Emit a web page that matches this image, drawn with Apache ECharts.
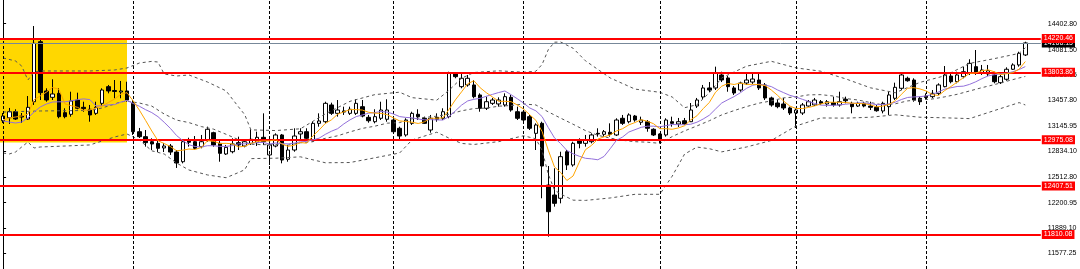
<!DOCTYPE html>
<html><head><meta charset="utf-8">
<script src="https://cdn.jsdelivr.net/npm/echarts@6/dist/echarts.min.js"></script>
<style>html,body{margin:0;padding:0;background:#fff;overflow:hidden}#c{width:1080px;height:269px}</style>
</head><body><div id="c"></div>
<script>
// ---- data ----
const openPrices = [13209,13246,13320,13267,13230,13443,14181,13575,13497,13546,13308,13288,13464,13374,13350,13300,13423,13628,13581,13562,13575,13423,13074,13013,12951,12931,12874,12898,12824,12705,12960,12951,12890,12972,13062,12931,12800,12828,12939,12898,12931,12939,13005,12788,12898,13034,12735,12849,13046,13074,12972,13177,13197,13403,13300,13329,13300,13300,13382,13251,13197,13239,13227,13218,13116,13034,13177,13288,13239,13095,13251,13239,13259,13792,13628,13649,13649,13526,13362,13423,13415,13403,13497,13320,13316,13259,13054,13177,12418,12295,12255,12828,12665,12960,12931,12951,13054,13042,13067,13034,13239,13197,13267,13190,13197,13104,13046,13034,13197,13169,13209,13197,13390,13501,13612,13612,13772,13735,13612,13587,13673,13685,13710,13649,13489,13427,13415,13366,13304,13304,13390,13403,13443,13415,13431,13403,13473,13423,13390,13423,13390,13374,13329,13382,13485,13608,13731,13710,13485,13513,13505,13546,13628,13759,13689,13751,13792,13874,13792,13784,13772,13677,13719,13842,13895,14018];
const closePrices = [13267,13320,13230,13255,13374,14161,13554,13464,13538,13259,13259,13452,13362,13357,13280,13374,13587,13575,13569,13575,13464,13074,13013,12939,12923,12870,12898,12824,12689,12951,12944,12870,12951,13104,12911,12808,12882,12923,12911,12951,12981,13005,12951,12911,13034,12726,12849,13021,13074,12993,13177,13206,13423,13300,13341,13316,13350,13423,13267,13209,13259,13341,13341,13074,13021,13218,13300,13259,13177,13239,13227,13320,13792,13751,13731,13731,13505,13362,13443,13464,13464,13505,13341,13239,13218,13116,13157,12652,12090,12193,12767,12665,12931,12931,12972,13034,13046,13074,13042,13218,13177,13280,13218,13218,13116,13034,12972,13218,13177,13197,13169,13341,13464,13612,13587,13796,13710,13628,13550,13673,13710,13722,13612,13489,13403,13382,13366,13304,13341,13403,13443,13464,13423,13443,13403,13443,13455,13382,13423,13390,13374,13332,13423,13526,13620,13772,13701,13464,13443,13495,13546,13649,13772,13689,13772,13812,13915,13792,13833,13824,13689,13751,13842,13895,14038,14166.15];
const highPrices = [13304,13366,13350,13304,13513,14374,14202,13608,13719,13608,13362,13566,13554,13443,13403,13443,13608,13649,13710,13698,13689,13464,13120,13095,12993,12972,12935,12923,12849,12972,13000,13021,13034,13136,13074,12972,12911,12993,13013,12972,13104,13074,13300,12931,13054,13046,12911,13116,13116,13116,13197,13300,13443,13431,13464,13382,13382,13473,13464,13280,13350,13443,13473,13239,13136,13239,13320,13350,13259,13280,13300,13362,13812,13800,13792,13772,13710,13546,13505,13489,13497,13546,13526,13382,13341,13280,13177,13197,12652,12624,12828,12849,12951,12993,13034,13054,13116,13095,13177,13239,13280,13300,13280,13259,13218,13116,13054,13239,13259,13243,13243,13427,13489,13649,13685,13874,13812,13759,13636,13689,13796,13796,13796,13673,13505,13464,13489,13382,13366,13427,13464,13489,13464,13464,13505,13566,13505,13443,13443,13443,13443,13403,13443,13566,13677,13792,13751,13731,13505,13546,13587,13669,13882,13792,13812,13874,13965,14079,13895,13895,13812,13772,13866,13915,14058,14181];
const lowPrices = [13181,13169,13218,13181,13218,13403,13464,13443,13464,13239,13239,13259,13350,13320,13197,13280,13390,13546,13485,13485,13443,13034,12997,12890,12849,12824,12824,12788,12628,12685,12890,12849,12870,12951,12890,12705,12788,12808,12849,12882,12911,12898,12911,12665,12882,12685,12705,12828,12972,12972,12951,13136,13177,13280,13259,13280,13280,13280,13251,13185,13177,13218,13197,13054,12972,13013,13157,13218,13169,13062,13197,13218,13239,13731,13608,13628,13485,13320,13341,13403,13382,13382,13320,13218,13193,13095,12849,12255,11783,12152,12193,12603,12644,12870,12890,12931,13013,13013,13013,13021,13157,13177,13197,13157,13074,13021,12931,13013,13136,13132,13157,13193,13366,13476,13562,13587,13685,13566,13526,13566,13649,13661,13587,13464,13382,13362,13341,13280,13120,13280,13382,13390,13403,13382,13382,13382,13423,13300,13378,13374,13341,13320,13300,13280,13464,13587,13689,13443,13403,13464,13485,13526,13620,13669,13669,13731,13772,13772,13772,13759,13669,13661,13701,13833,13874,14005];

// moving averages (orange fast, purple slow), one value per bar
const maFast = [13218,13243,13255,13267,13289,13468,13514,13561,13618,13596,13415,13394,13374,13337,13342,13364,13391,13434,13476,13535,13554,13452,13339,13213,13083,12963,12929,12891,12840,12847,12861,12855,12881,12963,12956,12929,12931,12925,12887,12894,12929,12954,12960,12960,12976,12925,12894,12908,12941,12933,13022,13094,13175,13220,13289,13318,13346,13346,13340,13313,13302,13300,13283,13245,13207,13200,13191,13175,13195,13239,13240,13244,13351,13465,13564,13664,13701,13615,13554,13501,13448,13448,13443,13403,13353,13283,13214,13077,12847,12641,12572,12474,12529,12698,12853,12907,12983,13011,13034,13083,13111,13158,13187,13222,13202,13172,13111,13111,13104,13120,13147,13220,13270,13357,13434,13560,13634,13667,13655,13672,13655,13657,13653,13641,13587,13522,13450,13389,13359,13359,13372,13391,13415,13436,13436,13436,13433,13425,13421,13418,13405,13380,13389,13409,13455,13534,13608,13616,13600,13575,13530,13519,13581,13630,13685,13738,13792,13796,13824,13835,13811,13778,13787,13800,13843,13937];
const maSlow = [13206,13193,13181,13193,13243,13316,13378,13415,13439,13442,13442,13454,13468,13478,13469,13390,13393,13404,13407,13438,13459,13421,13387,13345,13309,13259,13190,13115,13027,12965,12913,12892,12886,12902,12901,12894,12893,12903,12925,12925,12929,12942,12942,12923,12935,12928,12924,12934,12950,12955,12974,12994,13041,13080,13111,13170,13220,13260,13280,13302,13309,13323,13315,13292,13260,13250,13245,13229,13220,13223,13219,13218,13262,13330,13401,13453,13473,13484,13510,13533,13556,13575,13529,13479,13427,13366,13331,13260,13125,12998,12928,12844,12802,12772,12747,12740,12729,12770,12865,12968,13009,13070,13099,13128,13142,13142,13134,13149,13163,13160,13160,13166,13191,13230,13277,13353,13427,13468,13506,13553,13607,13645,13660,13647,13629,13588,13554,13521,13500,13473,13447,13421,13401,13398,13398,13404,13412,13420,13428,13427,13420,13407,13407,13415,13437,13470,13495,13502,13505,13514,13532,13564,13598,13615,13630,13634,13656,13688,13727,13760,13775,13785,13792,13812,13839,13875];

// Bollinger bands, [bar index, price]
const bbUpper = [[0,13981],[2,13944],[3,13882],[4,13710],[5,13808],[6,13821],[10,13821],[14,13821],[18,13833],[20,13858],[22,13919],[24,13939],[25,13931],[26,13784],[28,13759],[30,13772],[33,13685],[36,13576],[38,13379],[39,13284],[40,13097],[44,13088],[48,13110],[52,13293],[56,13448],[60,13530],[64,13560],[66,13493],[70,13462],[72,13585],[74,13732],[76,13802],[80,13823],[84,13806],[86,13818],[87,13901],[88,14083],[89,14175],[90,14177],[92,14101],[94,13946],[98,13735],[102,13598],[106,13559],[108,13501],[110,13369],[112,13406],[114,13554],[116,13736],[120,13880],[124,13940],[128,13859],[132,13818],[136,13724],[140,13614],[144,13553],[148,13681],[152,13762],[156,13914],[160,13973],[164,14037],[165,14106]];
const bbMiddle = [[0,13316],[3,13323],[6,13329],[10,13332],[14,13335],[16,13366],[18,13415],[19,13441],[20,13450],[22,13427],[24,13389],[26,13292],[28,13217],[30,13186],[32,13137],[34,13105],[36,13042],[38,12976],[40,12920],[42,12914],[44,12918],[46,12909],[48,12938],[50,12951],[52,12992],[54,13024],[56,13072],[58,13115],[60,13142],[62,13179],[64,13186],[66,13233],[68,13250],[70,13265],[72,13289],[74,13331],[76,13359],[78,13364],[80,13388],[82,13396],[84,13415],[86,13403],[88,13318],[90,13241],[92,13166],[94,13088],[96,13030],[98,12995],[100,12968],[102,12951],[104,12945],[106,12931],[108,13014],[110,13084],[112,13145],[114,13209],[116,13281],[118,13334],[120,13383],[122,13425],[124,13453],[126,13490],[128,13502],[130,13527],[132,13530],[134,13513],[136,13482],[138,13464],[140,13433],[142,13404],[144,13417],[146,13453],[148,13466],[150,13476],[152,13503],[154,13534],[156,13575],[158,13616],[160,13653],[162,13695],[164,13735],[165,13754]];
const bbLower = [[0,12812],[1,12800],[2,12824],[3,12886],[4,12947],[5,12874],[6,12886],[10,12898],[14,12911],[16,12960],[18,13009],[20,13046],[22,12972],[24,12839],[26,12800],[28,12689],[30,12603],[33,12542],[36,12508],[38,12572],[39,12606],[40,12743],[44,12748],[48,12765],[52,12692],[56,12695],[60,12753],[64,12812],[66,12972],[70,13068],[72,12994],[74,12930],[76,12917],[80,12952],[84,13024],[86,12987],[87,12843],[88,12553],[89,12355],[90,12308],[92,12232],[94,12229],[98,12259],[102,12304],[106,12304],[108,12527],[110,12799],[112,12885],[114,12865],[116,12826],[120,12886],[124,12966],[128,13145],[132,13243],[136,13241],[140,13252],[144,13282],[148,13252],[152,13245],[156,13235],[160,13334],[164,13432],[165,13403]];

const levelPrices = [14220.46, 13803.86, 12975.08, 12407.51, 11810.08];
const currentPrice = 14166.15;
const priceTicks = [11577.25, 11889.10, 12200.95, 12512.80, 12834.10, 13145.95, 13457.80, 13769.65, 14081.50, 14402.80, 14714.65];
const daySeparators = [0, 21, 43, 63, 84, 106, 128, 149];
const zoneBars = [-0.5, 20];
const zonePrices = [14220.46, 12940];
const slotCount = 168;
const priceRange = [11385.3, 14694];

// ---- chart ----
const categories = [];
for (let i = 0; i < slotCount; i++) categories.push('bar ' + (i + 1));
const candles = openPrices.map((o, i) => [o, closePrices[i], lowPrices[i], highPrices[i]]);
const fmt = v => Number(v).toFixed(2);
const FONT = 'Liberation Sans';
const LABEL_MARGIN = 7;

const chart = echarts.init(document.getElementById('c'), null, {renderer: 'canvas'});
chart.setOption({
  animation: false,
  backgroundColor: '#ffffff',
  grid: {left: 0, right: 39, top: 0, bottom: 0, containLabel: false},
  xAxis: [
    {type: 'category', data: categories, boundaryGap: true, show: false},
    {type: 'value', min: -0.5, max: slotCount - 0.5, show: false}
  ],
  yAxis: {
    type: 'value', position: 'right', min: priceRange[0], max: priceRange[1],
    splitLine: {show: false},
    axisLine: {show: true, lineStyle: {color: '#000', width: 1}},
    axisTick: {show: true, length: 3, customValues: priceTicks, lineStyle: {color: '#000'}},
    axisLabel: {customValues: priceTicks, formatter: fmt, color: '#000', fontSize: 7, fontFamily: FONT, margin: LABEL_MARGIN}
  },
  series: [
    {
      name: 'zone', type: 'line', xAxisIndex: 1, data: [[zoneBars[0], zonePrices[0]]],
      symbol: 'none', lineStyle: {opacity: 0}, z: 1, silent: true,
      markArea: {silent: true, itemStyle: {color: '#FFD700'},
        data: [[{xAxis: zoneBars[0], yAxis: zonePrices[0]}, {xAxis: zoneBars[1], yAxis: zonePrices[1]}]]},
      markLine: {silent: true, symbol: ['none', 'none'], label: {show: false},
        lineStyle: {color: '#000', width: 1, type: [3, 2]},
        data: daySeparators.map(x => ({xAxis: x}))}
    },
    {
      name: 'price', type: 'candlestick', data: candles, barWidth: 4, z: 3,
      itemStyle: {color: '#ffffff', color0: '#000000', borderColor: '#000000', borderColor0: '#000000', borderWidth: 1}
    },
    {name: 'bbUpper', type: 'line', xAxisIndex: 1, data: bbUpper, symbol: 'none', z: 4,
      lineStyle: {color: '#555', width: 1, type: [3, 3]}},
    {name: 'bbMiddle', type: 'line', xAxisIndex: 1, data: bbMiddle, symbol: 'none', z: 4,
      lineStyle: {color: '#555', width: 1, type: [3, 3]}},
    {name: 'bbLower', type: 'line', xAxisIndex: 1, data: bbLower, symbol: 'none', z: 4,
      lineStyle: {color: '#555', width: 1, type: [3, 3]}},
    {name: 'maSlow', type: 'line', data: maSlow, symbol: 'none', z: 5,
      lineStyle: {color: '#9370DB', width: 1}},
    {name: 'maFast', type: 'line', data: maFast, symbol: 'none', z: 6,
      lineStyle: {color: '#FFA500', width: 1}},
    {
      name: 'current', type: 'line', data: [], z: 7, silent: true,
      markLine: {silent: true, symbol: ['none', 'none'],
        lineStyle: {color: '#778899', width: 1, type: 'solid'},
        label: {position: 'end', distance: 1, formatter: p => fmt(p.value), backgroundColor: '#000', color: '#fff',
          fontSize: 7, fontFamily: FONT, padding: [1, 2, 1, 2], lineHeight: 7},
        data: [{yAxis: currentPrice}]}
    },
    {
      name: 'levels', type: 'line', data: [], z: 8, silent: true,
      markLine: {silent: true, symbol: ['none', 'none'],
        lineStyle: {color: '#ff0000', width: 2, type: 'solid'},
        label: {position: 'end', distance: 1, formatter: p => fmt(p.value), backgroundColor: '#ff0000', color: '#fff',
          fontSize: 7, fontFamily: FONT, padding: [1, 2, 1, 2], lineHeight: 7},
        data: levelPrices.map(v => ({yAxis: v}))}
    }
  ]
});

// tick labels that sit just above the visible price range (partly cut off at the top edge)
const axisX = chart.convertToPixel({xAxisIndex: 1}, slotCount - 0.5);
const extra = priceTicks.filter(v => v > priceRange[1]).map(v => ({
  type: 'text', silent: true, z: 0,
  x: axisX + LABEL_MARGIN, y: chart.convertToPixel({yAxisIndex: 0}, v),
  style: {text: fmt(v), fill: '#000', font: '7px "' + FONT + '"', verticalAlign: 'middle', align: 'left'}
}));
chart.setOption({graphic: extra});
</script></body></html>
